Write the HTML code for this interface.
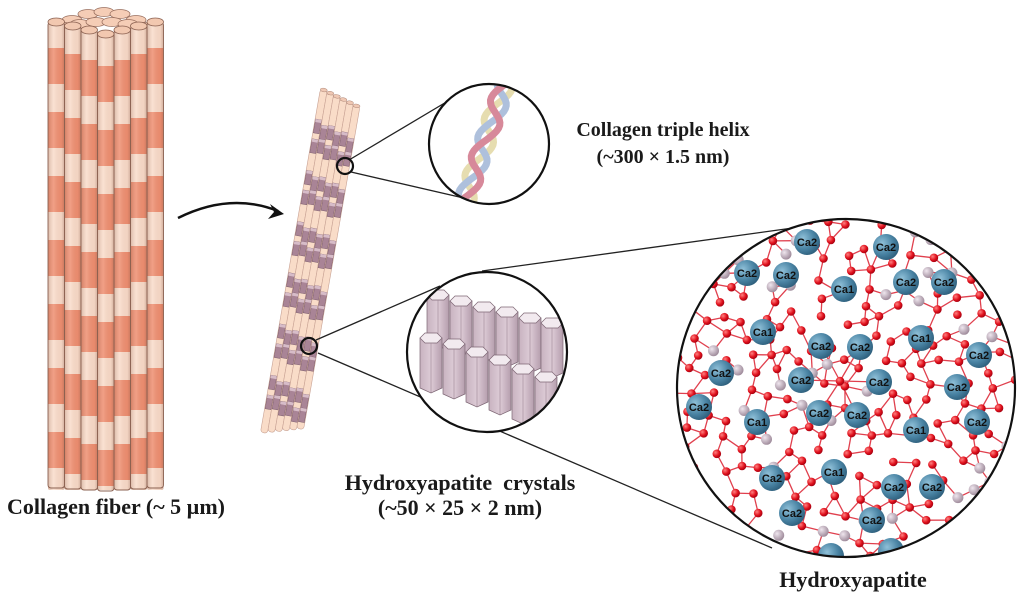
<!DOCTYPE html>
<html><head><meta charset="utf-8">
<style>
html,body{margin:0;padding:0;background:#fff;}
svg{display:block;}
.t{font-family:"Liberation Serif",serif;font-weight:bold;fill:#1a1a1a;}
.ca{font-family:"Liberation Sans",sans-serif;font-weight:bold;font-size:11px;fill:#111;text-anchor:middle;}
</style></head>
<body>
<svg id="s" width="1024" height="594" viewBox="0 0 1024 594" xmlns="http://www.w3.org/2000/svg">
<defs>
<linearGradient id="col" x1="0" x2="1" y1="0" y2="0">
<stop offset="0" stop-color="#7a4a3a" stop-opacity="0.25"/>
<stop offset="0.35" stop-color="#fff" stop-opacity="0.15"/>
<stop offset="0.8" stop-color="#7a4a3a" stop-opacity="0.05"/>
<stop offset="1" stop-color="#7a4a3a" stop-opacity="0.3"/>
</linearGradient>
<radialGradient id="cag" cx="0.35" cy="0.35" r="0.7">
<stop offset="0" stop-color="#8fc0d8"/><stop offset="0.6" stop-color="#4a84a4"/><stop offset="1" stop-color="#2e5f7c"/>
</radialGradient>
<radialGradient id="og" cx="0.35" cy="0.35" r="0.7">
<stop offset="0" stop-color="#ff8080"/><stop offset="0.6" stop-color="#e0101c"/><stop offset="1" stop-color="#a00010"/>
</radialGradient>
<radialGradient id="pg" cx="0.35" cy="0.35" r="0.7">
<stop offset="0" stop-color="#efe6ee"/><stop offset="1" stop-color="#9c8898"/>
</radialGradient>
<linearGradient id="hex" x1="0" x2="1"><stop offset="0" stop-color="#c8b3c0"/><stop offset="0.5" stop-color="#ddcbd6"/><stop offset="1" stop-color="#b59ead"/></linearGradient>
<clipPath id="bigc"><circle cx="846" cy="388" r="169"/></clipPath>
<clipPath id="helc"><circle cx="489" cy="144" r="59"/></clipPath>
<clipPath id="cryc"><circle cx="487" cy="352" r="79"/></clipPath>
</defs>

<g id="bundle"></g>

<path d="M178,218 Q230,192 278,211" fill="none" stroke="#111" stroke-width="2.5"/>
<path d="M284,214 L270,204 L274,212 L268,219 Z" fill="#111"/>

<g id="fibril" transform="translate(341,93) rotate(9.9)"></g>

<g stroke="#222" stroke-width="1.3" fill="none">
<line x1="349" y1="160" x2="448" y2="101"/>
<line x1="351" y1="172" x2="468" y2="199"/>
<line x1="316" y1="340" x2="440" y2="286"/>
<line x1="318" y1="353" x2="772" y2="548"/>
<line x1="482" y1="271" x2="800" y2="227"/>
</g>
<circle cx="345" cy="166" r="8" fill="none" stroke="#111" stroke-width="2.2"/>
<circle cx="309" cy="346" r="8" fill="none" stroke="#111" stroke-width="2.2"/>

<circle cx="489" cy="144" r="60" fill="#fff"/>
<g clip-path="url(#helc)" fill="none" stroke-linecap="round">
<path id="h1" d="" stroke="#e6ddb0" stroke-width="7"/>
<path id="h2" d="" stroke="#aec0dc" stroke-width="7"/>
<path id="h3" d="" stroke="#d7899a" stroke-width="7"/>
</g>
<circle cx="489" cy="144" r="60" fill="none" stroke="#111" stroke-width="2.2"/>

<circle cx="487" cy="352" r="80" fill="#fff"/>
<g id="cry" clip-path="url(#cryc)"></g>
<circle cx="487" cy="352" r="80" fill="none" stroke="#111" stroke-width="2.2"/>

<circle cx="846" cy="388" r="169" fill="#fff"/>
<g clip-path="url(#bigc)">
<g id="net"></g>
<g id="cas">
<g><circle cx="807" cy="242" r="13" fill="url(#cag)"/><text class="ca" x="807" y="246">Ca2</text></g>
<g><circle cx="886" cy="247" r="13" fill="url(#cag)"/><text class="ca" x="886" y="251">Ca2</text></g>
<g><circle cx="747" cy="273" r="13" fill="url(#cag)"/><text class="ca" x="747" y="277">Ca2</text></g>
<g><circle cx="786" cy="275" r="13" fill="url(#cag)"/><text class="ca" x="786" y="279">Ca2</text></g>
<g><circle cx="844" cy="289" r="13" fill="url(#cag)"/><text class="ca" x="844" y="293">Ca1</text></g>
<g><circle cx="906" cy="282" r="13" fill="url(#cag)"/><text class="ca" x="906" y="286">Ca2</text></g>
<g><circle cx="944" cy="282" r="13" fill="url(#cag)"/><text class="ca" x="944" y="286">Ca2</text></g>
<g><circle cx="763" cy="332" r="13" fill="url(#cag)"/><text class="ca" x="763" y="336">Ca1</text></g>
<g><circle cx="821" cy="346" r="13" fill="url(#cag)"/><text class="ca" x="821" y="350">Ca2</text></g>
<g><circle cx="860" cy="347" r="13" fill="url(#cag)"/><text class="ca" x="860" y="351">Ca2</text></g>
<g><circle cx="921" cy="338" r="13" fill="url(#cag)"/><text class="ca" x="921" y="342">Ca1</text></g>
<g><circle cx="979" cy="355" r="13" fill="url(#cag)"/><text class="ca" x="979" y="359">Ca2</text></g>
<g><circle cx="721" cy="373" r="13" fill="url(#cag)"/><text class="ca" x="721" y="377">Ca2</text></g>
<g><circle cx="801" cy="380" r="13" fill="url(#cag)"/><text class="ca" x="801" y="384">Ca2</text></g>
<g><circle cx="879" cy="382" r="13" fill="url(#cag)"/><text class="ca" x="879" y="386">Ca2</text></g>
<g><circle cx="957" cy="387" r="13" fill="url(#cag)"/><text class="ca" x="957" y="391">Ca2</text></g>
<g><circle cx="699" cy="407" r="13" fill="url(#cag)"/><text class="ca" x="699" y="411">Ca2</text></g>
<g><circle cx="757" cy="422" r="13" fill="url(#cag)"/><text class="ca" x="757" y="426">Ca1</text></g>
<g><circle cx="819" cy="413" r="13" fill="url(#cag)"/><text class="ca" x="819" y="417">Ca2</text></g>
<g><circle cx="857" cy="415" r="13" fill="url(#cag)"/><text class="ca" x="857" y="419">Ca2</text></g>
<g><circle cx="916" cy="430" r="13" fill="url(#cag)"/><text class="ca" x="916" y="434">Ca1</text></g>
<g><circle cx="977" cy="422" r="13" fill="url(#cag)"/><text class="ca" x="977" y="426">Ca2</text></g>
<g><circle cx="834" cy="472" r="13" fill="url(#cag)"/><text class="ca" x="834" y="476">Ca1</text></g>
<g><circle cx="772" cy="478" r="13" fill="url(#cag)"/><text class="ca" x="772" y="482">Ca2</text></g>
<g><circle cx="894" cy="487" r="13" fill="url(#cag)"/><text class="ca" x="894" y="491">Ca2</text></g>
<g><circle cx="932" cy="487" r="13" fill="url(#cag)"/><text class="ca" x="932" y="491">Ca2</text></g>
<g><circle cx="792" cy="513" r="13" fill="url(#cag)"/><text class="ca" x="792" y="517">Ca2</text></g>
<g><circle cx="872" cy="520" r="13" fill="url(#cag)"/><text class="ca" x="872" y="524">Ca2</text></g>
<circle cx="831" cy="556" r="13" fill="url(#cag)"/>
<circle cx="891" cy="551" r="13" fill="url(#cag)"/>
</g>
</g>
<circle cx="846" cy="388" r="169" fill="none" stroke="#111" stroke-width="2.2"/>

<text class="t" x="116" y="514" font-size="22" text-anchor="middle">Collagen fiber (~ 5 µm)</text>
<text class="t" x="663" y="136" font-size="20" text-anchor="middle">Collagen triple helix</text>
<text class="t" x="663" y="163" font-size="20" text-anchor="middle">(~300 × 1.5 nm)</text>
<text class="t" x="460" y="490" font-size="22" text-anchor="middle" xml:space="preserve">Hydroxyapatite  crystals</text>
<text class="t" x="460" y="515" font-size="22" text-anchor="middle">(~50 × 25 × 2 nm)</text>
<text class="t" x="853" y="587" font-size="22" text-anchor="middle">Hydroxyapatite</text>
</svg>
<script>
(function(){
var NS="http://www.w3.org/2000/svg";
function el(p,n,a){var e=document.createElementNS(NS,n);for(var k in a)e.setAttribute(k,a[k]);p.appendChild(e);return e;}
var b=document.getElementById('bundle');
var x0=48,w=16.5;
var caps=[[72,20],[88,14],[104,12],[120,14],[136,20],[64,27],[80,24],[96,22],[112,22],[128,24],[144,27]];
caps.forEach(function(c){el(b,'ellipse',{cx:c[0],cy:c[1],rx:10,ry:4.5,fill:'#f5cdb6',stroke:'#9a7060','stroke-width':0.8});});
var order=[0,6,1,5,2,4,3];
order.forEach(function(i){
 var x=x0+i*w, d=Math.abs(i-3), top=22+(3-d)*4, off=(3-d)*6;
 var cid='cc'+i;
 var cp=el(el(b,'defs',{}),'clipPath',{id:cid});
 el(cp,'rect',{x:x,y:top,width:w,height:490-top,rx:2});
 var gg=el(b,'g',{'clip-path':'url(#'+cid+')'});
 el(gg,'rect',{x:x,y:top,width:w,height:490-top,fill:'#f9dcca'});
 for(var k=0;k<8;k++){var y=48+off+k*64;el(gg,'rect',{x:x,y:y,width:w,height:36,fill:'#ee8e70'});}
 el(gg,'rect',{x:x,y:top,width:w,height:490-top,fill:'url(#col)'});
 el(b,'rect',{x:x,y:top,width:w,height:490-top-2+(3-d),rx:3,fill:'none',stroke:'#8a6050','stroke-width':0.9});
 el(b,'ellipse',{cx:x+w/2,cy:top,rx:w/2,ry:4,fill:'#f2c8b0',stroke:'#8a6050','stroke-width':0.8});
});
var f=document.getElementById('fibril');
var sw=7;
for(var s=0;s<6;s++){
 var x=-21+s*sw, yo=s*2;
 el(f,'rect',{x:x,y:yo,width:sw,height:338-yo+(5-s)*2,rx:3,fill:'#f9dcc8',stroke:'#c8a294','stroke-width':0.6});
 el(f,'ellipse',{cx:x+sw/2,cy:yo,rx:sw/2,ry:1.8,fill:'#efc8b4',stroke:'#b08878','stroke-width':0.5});
 for(var k=0;k<6;k++){
  var y=30+k*52+yo;
  for(var q=0;q<2;q++){
   var yy=y+q*17+((s+q)%2)*3;
   el(f,'rect',{x:x+0.5,y:yy,width:sw-1,height:14,fill:'#a98496',stroke:'#7e5f6e','stroke-width':0.5});
   el(f,'rect',{x:x+0.5,y:yy,width:sw-1,height:3,fill:'#d7bcc8'});
  }
 }
}
function hp(ph,amp){var d='';for(var t=0;t<=1.001;t+=0.02){var y=215-t*140, cx=460+t*48;var x=cx+amp*Math.sin(t*Math.PI*5+ph);d+=(t==0?'M':'L')+x.toFixed(1)+','+y.toFixed(1);}return d;}
document.getElementById('h1').setAttribute('d',hp(0,9));
document.getElementById('h2').setAttribute('d',hp(2.1,9));
document.getElementById('h3').setAttribute('d',hp(4.2,9));
var c=document.getElementById('cry');
function prism(x,y,h){
 var w=22;
 el(c,'path',{d:'M'+x+','+(y+5)+' L'+x+','+(y+h)+' L'+(x+w/2)+','+(y+h+5)+' L'+(x+w)+','+(y+h)+' L'+(x+w)+','+(y+5)+' Z',fill:'url(#hex)',stroke:'#7d6674','stroke-width':0.7});
 el(c,'path',{d:'M'+x+','+(y+5)+' L'+(x+5)+','+y+' L'+(x+w-5)+','+y+' L'+(x+w)+','+(y+5)+' L'+(x+w-5)+','+(y+10)+' L'+(x+5)+','+(y+10)+' Z',fill:'#f2eaef',stroke:'#7d6674','stroke-width':0.7});
 el(c,'line',{x1:x+w/2,y1:y+10,x2:x+w/2,y2:y+h+5,stroke:'#9b8593','stroke-width':0.6});
}
var top=[[427,290],[450,296],[473,302],[496,307],[519,313],[541,318]];
top.forEach(function(p){prism(p[0],p[1],55);});
var bot=[[420,333],[443,339],[466,347],[489,355],[512,364],[535,372]];
bot.forEach(function(p){prism(p[0],p[1],55);});
var n=document.getElementById('net');
var seed=7;function r(){seed=(seed*16807)%2147483647;return seed/2147483647;}
var pts=[];
var cx=846,cy=388,R=175;
var tries=0;
while(pts.length<230&&tries<20000){tries++;var x=cx-R+r()*2*R,y=cy-R+r()*2*R;if((x-cx)*(x-cx)+(y-cy)*(y-cy)>R*R)continue;var ok=true;for(var i=0;i<pts.length;i++){var dx=pts[i][0]-x,dy=pts[i][1]-y;if(dx*dx+dy*dy<15*15){ok=false;break;}}if(ok)pts.push([x,y]);}
var lg=el(n,'g',{stroke:'#e0404e','stroke-width':1.3});
for(var i=0;i<pts.length;i++){var cnt=0;for(var j=i+1;j<pts.length;j++){var dx=pts[i][0]-pts[j][0],dy=pts[i][1]-pts[j][1],d=dx*dx+dy*dy;if(d<24*24&&cnt<2){el(lg,'line',{x1:pts[i][0].toFixed(1),y1:pts[i][1].toFixed(1),x2:pts[j][0].toFixed(1),y2:pts[j][1].toFixed(1)});cnt++;}}}
[[821,346],[860,347],[801,380],[879,382],[819,413],[857,415]].forEach(function(p){el(lg,'line',{x1:840,y1:381,x2:p[0],y2:p[1]});});
for(var i=0;i<pts.length;i++){
 if(i%6==0) el(n,'circle',{cx:pts[i][0].toFixed(1),cy:pts[i][1].toFixed(1),r:5.5,fill:'url(#pg)'});
 else el(n,'circle',{cx:pts[i][0].toFixed(1),cy:pts[i][1].toFixed(1),r:4.3,fill:'url(#og)'});
}
el(n,'circle',{cx:840,cy:381,r:4.3,fill:'url(#og)'});
})();
</script>
</body></html>
